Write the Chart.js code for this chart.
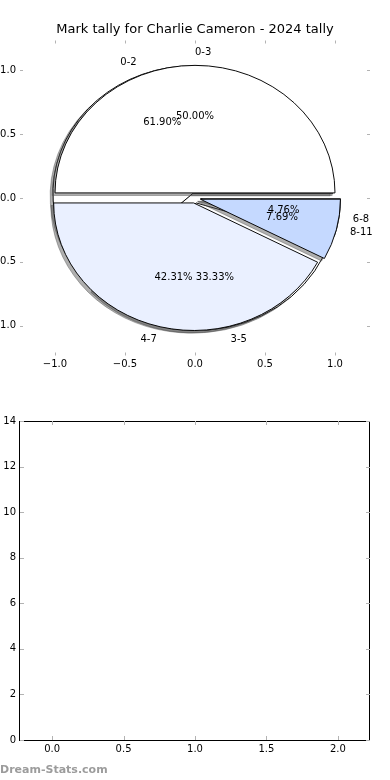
<!DOCTYPE html>
<html>
<head>
<meta charset="utf-8">
<script src="https://cdn.jsdelivr.net/npm/chart.js@4.4.1/dist/chart.umd.min.js"></script>
<style>
  html, body { margin: 0; padding: 0; background: #fff; }
  #wrap { position: relative; width: 390px; height: 780px; overflow: hidden; background: #fff; }
  #wrap canvas { position: absolute; left: -20px; }
  #mark { position: absolute; left: 0; top: 763px; font: bold 11px "DejaVu Sans", sans-serif; line-height: 14px; color: #9c9c9c; }
</style>
</head>
<body>
<div id="wrap">
  <canvas id="axesTop" width="410" height="390" style="top:0"></canvas>
  <canvas id="pieB" width="410" height="390" style="top:0"></canvas>
  <canvas id="pieA" width="410" height="390" style="top:0"></canvas>
  <canvas id="axesBottom" width="410" height="390" style="top:390px"></canvas>
  <div id="mark">Dream-Stats.com</div>
</div>
<script>
const chartTitle = "Mark tally for Charlie Cameron - 2024 tally";

// pie drawn on top, and the one underneath it
const labelsA = ["0-3", "4-7", "8-11"];
const valuesA = [13, 11, 2];
const labelsB = ["0-2", "3-5", "6-8"];
const valuesB = [13, 7, 1];

const pieTicks = [-1, -0.5, 0, 0.5, 1];
const bottomXTicks = [0, 0.5, 1, 1.5, 2];
const bottomYTicks = [0, 2, 4, 6, 8, 10, 12, 14];

const colorsA = ["#ffffff", "#eaf0ff", "#c5d9ff"];
const colorsB = ["#ffffff", "#ffffff", "#ffffff"];

Chart.defaults.font.family = "'DejaVu Sans', sans-serif";
Chart.defaults.font.size = 10;
Chart.defaults.color = "#000";
Chart.defaults.animation = false;

const fmt1 = v => (v < 0 ? "\u2212" : "") + Math.abs(v).toFixed(1);

// matplotlib-ish ticks: short grey marks pointing inwards on all four sides
const inwardTicks = {
  id: "inwardTicks",
  afterDraw(chart, args, opts) {
    const { ctx, chartArea: a, scales: { x, y } } = chart;
    ctx.save();
    if (opts.frame) {
      ctx.strokeStyle = "#000";
      ctx.lineWidth = 1;
      ctx.strokeRect(a.left - 0.5, a.top + 0.5, a.right - a.left, a.bottom - a.top);
    }
    ctx.strokeStyle = opts.color;
    ctx.lineWidth = 1;
    ctx.beginPath();
    x.ticks.forEach(t => {
      const px = Math.round(x.getPixelForValue(t.value)) + 0.5;
      ctx.moveTo(px, a.top); ctx.lineTo(px, a.top + opts.len);
      ctx.moveTo(px, a.bottom); ctx.lineTo(px, a.bottom - opts.len);
    });
    y.ticks.forEach(t => {
      const py = Math.round(y.getPixelForValue(t.value)) + 0.5;
      ctx.moveTo(a.left, py); ctx.lineTo(a.left + opts.len, py);
      ctx.moveTo(a.right, py); ctx.lineTo(a.right - opts.len, py);
    });
    ctx.stroke();
    ctx.restore();
  }
};

const noAxisLines = { grid: { display: false, drawTicks: false }, border: { display: false } };

const axesTop = new Chart(document.getElementById("axesTop"), {
  type: "scatter",
  data: { datasets: [{ data: [] }] },
  options: {
    responsive: false,
    layout: { padding: { right: 20 } },
    plugins: {
      legend: { display: false },
      tooltip: { enabled: false },
      title: {
        display: true, text: chartTitle, fullSize: false,
        font: { size: 13, weight: "normal" }, padding: { top: 22, bottom: 2.9 }
      },
      inwardTicks: { color: "#b3b3b3", len: 3 }
    },
    scales: {
      x: {
        type: "linear", min: -1.25, max: 1.25, ...noAxisLines,
        afterBuildTicks: s => { s.ticks = pieTicks.map(v => ({ value: v })); },
        afterFit: s => { s.height = 34.5; },
        ticks: { padding: 3, autoSkip: false, maxRotation: 0, callback: fmt1 }
      },
      y: {
        type: "linear", min: -1.235, max: 1.235, ...noAxisLines,
        afterBuildTicks: s => { s.ticks = pieTicks.map(v => ({ value: v })); },
        afterFit: s => { s.width = 40; },
        ticks: { padding: 4, autoSkip: false, callback: fmt1 }
      }
    }
  },
  plugins: [inwardTicks]
});

// pie geometry comes from the axes above
const sx = axesTop.scales.x, sy = axesTop.scales.y;
const cx = sx.getPixelForValue(0);
const cy = sy.getPixelForValue(0);
const rx = sx.getPixelForValue(1) - cx;
const ry = cy - sy.getPixelForValue(1);
const squash = ry / rx;
const explode = 0.04 * rx;
const shadowShift = 0.02 * rx;

const midOf = a => (a.startAngle + a.endAngle) / 2;

// wedges pushed out from the centre (matplotlib explode) with a grey shadow under them
const explodedPie = {
  id: "explodedPie",
  beforeDatasetDraw(chart, args) {
    const ctx = chart.ctx;
    const arcs = args.meta.data;
    const ox = arcs[0].x, oy = arcs[0].y;
    ctx.save();
    ctx.translate(ox, oy); ctx.scale(1, squash); ctx.translate(-ox, -oy);
    arcs.forEach(a => {
      const m = midOf(a);
      const saved = a.options;
      a.options = Object.assign({}, saved, { backgroundColor: "rgba(77,77,77,0.45)", borderColor: "rgba(77,77,77,0.45)" });
      ctx.save();
      ctx.translate(Math.cos(m) * explode - shadowShift, Math.sin(m) * explode + shadowShift);
      a.draw(ctx);
      ctx.restore();
      a.options = saved;
    });
    arcs.forEach(a => {
      const m = midOf(a);
      ctx.save();
      ctx.translate(Math.cos(m) * explode, Math.sin(m) * explode);
      a.draw(ctx);
      ctx.restore();
    });
    ctx.restore();
    return false;
  }
};

// labels of both pies are drawn by the top canvas so text sits above every wedge
const labelCharts = [];
const pieLabels = {
  id: "pieLabels",
  afterDraw(chart) {
    const ctx = chart.ctx;
    ctx.save();
    ctx.fillStyle = "#000";
    ctx.font = "10px 'DejaVu Sans', sans-serif";
    ctx.textBaseline = "middle";
    labelCharts.forEach(c => {
      const ds = c.data.datasets[0];
      const total = ds.data.reduce((s, v) => s + v, 0);
      c.getDatasetMeta(0).data.forEach((a, i) => {
        const m = midOf(a);
        const cos = Math.cos(m), sin = Math.sin(m);
        const bx = a.x + cos * explode, by = a.y + sin * explode * squash;
        const r = a.outerRadius;
        // straight-up wedge counts as right-hand side, as matplotlib does
        ctx.textAlign = cos > -1e-9 ? "left" : "right";
        ctx.fillText(c.data.labels[i], bx + cos * r * 1.1, by + sin * r * 1.1 * squash);
        ctx.textAlign = "center";
        ctx.fillText((ds.data[i] / total * 100).toFixed(2) + "%", bx + cos * r * 0.6, by + sin * r * 0.6 * squash);
      });
    });
    ctx.restore();
  }
};

function makePie(id, labels, values, colors, extra) {
  const half = 160;
  return new Chart(document.getElementById(id), {
    type: "pie",
    data: {
      // reversed + rotation 90 gives matplotlib's counter-clockwise order from 3 o'clock
      labels: labels.slice().reverse(),
      datasets: [{
        data: values.slice().reverse(),
        backgroundColor: colors.slice().reverse(),
        borderColor: "#000",
        borderWidth: 1
      }]
    },
    options: {
      responsive: false,
      rotation: 90,
      radius: rx,
      layout: { padding: { left: cx - half, right: 410 - cx - half, top: cy - half, bottom: 390 - cy - half } },
      plugins: { legend: { display: false }, tooltip: { enabled: false } }
    },
    plugins: [explodedPie].concat(extra)
  });
}

const pieB = makePie("pieB", labelsB, valuesB, colorsB, []);
labelCharts.push(pieB);
const pieA = makePie("pieA", labelsA, valuesA, colorsA, [pieLabels]);
labelCharts.push(pieA);
pieA.draw();

new Chart(document.getElementById("axesBottom"), {
  type: "scatter",
  data: { datasets: [{ data: [] }] },
  options: {
    responsive: false,
    layout: { padding: { top: 31, right: 20 } },
    plugins: {
      legend: { display: false },
      tooltip: { enabled: false },
      inwardTicks: { color: "#b3b3b3", len: 4, frame: true }
    },
    scales: {
      x: {
        type: "linear", min: -0.225, max: 2.225, ...noAxisLines,
        afterBuildTicks: s => { s.ticks = bottomXTicks.map(v => ({ value: v })); },
        afterFit: s => { s.height = 40; },
        ticks: { padding: 3, autoSkip: false, maxRotation: 0, callback: fmt1 }
      },
      y: {
        type: "linear", min: 0, max: 14, ...noAxisLines,
        afterBuildTicks: s => { s.ticks = bottomYTicks.map(v => ({ value: v })); },
        afterFit: s => { s.width = 40; },
        ticks: { padding: 4, autoSkip: false, callback: v => String(v) }
      }
    }
  },
  plugins: [inwardTicks]
});
</script>
</body>
</html>
